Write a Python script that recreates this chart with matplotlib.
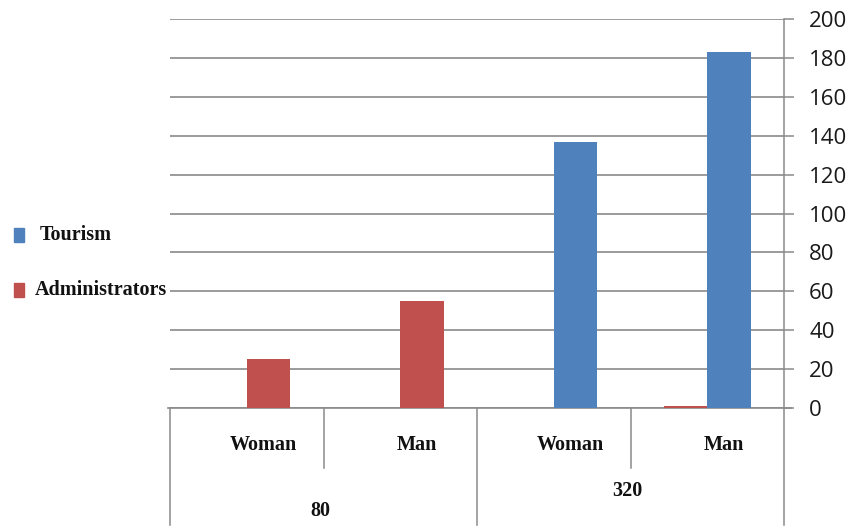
import matplotlib
matplotlib.use("Agg")
import matplotlib.pyplot as plt
from matplotlib.patches import Rectangle
import numpy as np

# Data
groups = ["80", "320"]
subgroups = ["Woman", "Man"]
categories = ["Woman", "Man", "Woman", "Man"]
tourism = [0, 0, 137, 183]
administrators = [25, 55, 0, 1]
series_names = ["Tourism", "Administrators"]
series_colors = ["#4F81BD", "#C0504D"]
y_ticks = list(range(0, 201, 20))

W, H = 851, 531
fig = plt.figure(figsize=(W / 100, H / 100), dpi=100)

# plot area in pixel terms
x0, x1 = 170, 784
ytop, ybot = 19, 408
ax = fig.add_axes([x0 / W, (H - ybot) / H, (x1 - x0) / W, (ybot - ytop) / H])

grid_col = "#8a8a8a"
serif = ["Liberation Serif", "DejaVu Serif"]

n = len(categories)
xs = np.arange(n)
bw = 0.285
for i in xs:
    vals = [tourism[i], administrators[i]]
    # the larger bar of each category sits in the right slot
    big = int(np.argmax(vals))
    small = 1 - big
    ax.bar(i + bw / 2, vals[big], width=bw, color=series_colors[big], zorder=3)
    if vals[small] > 0:
        ax.bar(i - bw / 2, vals[small], width=bw, color=series_colors[small], zorder=3)

ax.set_xlim(-0.5, n - 0.5)
ax.set_ylim(0, 200)
ax.set_yticks(y_ticks)
ax.yaxis.tick_right()
ax.tick_params(axis="y", direction="out", length=7, width=1.1, color=grid_col,
               pad=11, labelsize=16, labelcolor="#1a1a1a")
for lab in ax.get_yticklabels():
    lab.set_fontfamily(["Open Sans", "DejaVu Sans"])
ax.set_xticks([])
ax.grid(axis="y", color=grid_col, linewidth=1.2, zorder=0)
ax.set_axisbelow(True)
for side in ["top", "left", "bottom"]:
    ax.spines[side].set_visible(False)
ax.spines["right"].set_color(grid_col)
ax.spines["right"].set_linewidth(1.1)

# category box below the axis
tr = ax.get_xaxis_transform()
px = 1.0 / (ybot - ytop)
ax.plot([-0.5 - 2 / 153, n - 0.5 + 7 / 153], [0, 0], color=grid_col, lw=1.2,
        transform=tr, clip_on=False)
outer_len = -(525 - ybot) * px
inner_len = -(468 - ybot) * px
for b in np.arange(-0.5, n, 1.0):
    k = int(b + 0.5)
    depth = outer_len if k % 2 == 0 else inner_len
    ax.plot([b, b], [0, depth], color=grid_col, lw=1.1, transform=tr, clip_on=False)

for i, c in enumerate(categories):
    ax.text(i + 0.11, -(445 - ybot) * px, c, transform=tr, ha="center", va="center",
            fontsize=14.5, fontweight="bold", family=serif, color="#111111")

group_label_y = [511, 491]
for g, name in enumerate(groups):
    ax.text(2 * g + 0.5 - 0.02, -(group_label_y[g] - ybot) * px, name, transform=tr,
            ha="center", va="center", fontsize=14.5, fontweight="bold",
            family=serif, color="#111111")

# legend on the left
legend_y = [235, 290]
legend_tx = [40, 35]
for name, col, ly, tx in zip(series_names, series_colors, legend_y, legend_tx):
    fig.patches.append(Rectangle((14 / W, (H - ly - 7) / H), 10 / W, 14 / H,
                                 transform=fig.transFigure, color=col))
    fig.text(tx / W, (H - ly) / H, name, ha="left", va="center", fontsize=14.5,
             fontweight="bold", family=serif, color="#111111")

fig.savefig("out.png", dpi=100)
